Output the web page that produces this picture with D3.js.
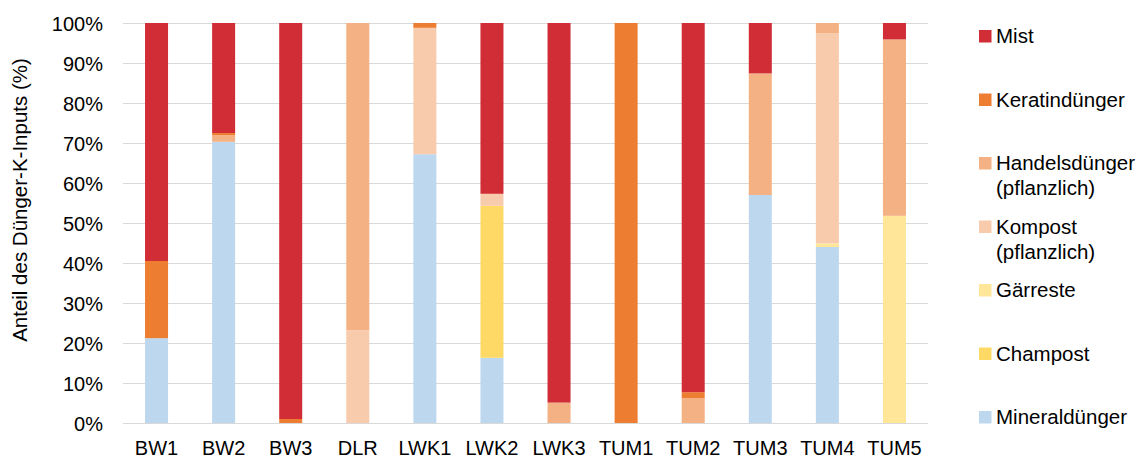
<!DOCTYPE html>
<html>
<head>
<meta charset="utf-8">
<script src="https://cdn.jsdelivr.net/npm/d3@7"></script>
<style>
  html, body { margin: 0; padding: 0; background: #fff; }
  svg { display: block; }
  text { font-family: "Liberation Sans", Arial, sans-serif; fill: #000; }
</style>
</head>
<body>
<svg id="chart" width="1145" height="459"></svg>
<script>
const categories = ["BW1","BW2","BW3","DLR","LWK1","LWK2","LWK3","TUM1","TUM2","TUM3","TUM4","TUM5"];
const mineral   = [21.2, 70.3, 0,    0,    67.2, 16.3, 0,    0,   0,    57.0, 44.0, 0];
const champost  = [0,    0,    0,    0,    0,    38.0, 0,    0,   0,    0,    0,    0];
const gaerreste = [0,    0,    0,    0,    0,    0,    0,    0,   0,    0,    0.9,  51.8];
const kompost   = [0,    0,    0,    23.2, 31.6, 3.0,  0,    0,   0,    0,    52.5, 0];
const handels   = [0,    1.7,  0,    76.8, 0,    0,    5.1,  0,   6.2,  30.4, 2.6,  44.1];
const keratin   = [19.3, 0.5,  1.0,  0,    1.2,  0,    0,    100, 1.5,  0,    0,    0];
const mist      = [59.5, 27.5, 99.0, 0,    0,    42.7, 94.9, 0,   92.3, 12.6, 0,    4.1];
const yTicks = [0,10,20,30,40,50,60,70,80,90,100];

// series, bottom to top of stack
const seriesKeys = ["Mineraldünger","Champost","Gärreste","Kompost","Handelsdünger","Keratindünger","Mist"];
const seriesValues = [mineral, champost, gaerreste, kompost, handels, keratin, mist];
const seriesColors = ["#BDD7EE","#FFD966","#FFE699","#F8CBAD","#F4B183","#ED7D31","#D12D36"];
const legendLabels = {
  "Mist": ["Mist"],
  "Keratindünger": ["Keratindünger"],
  "Handelsdünger": ["Handelsdünger","(pflanzlich)"],
  "Kompost": ["Kompost","(pflanzlich)"],
  "Gärreste": ["Gärreste"],
  "Champost": ["Champost"],
  "Mineraldünger": ["Mineraldünger"]
};

const rows = categories.map((c, i) => {
  const r = {cat: c};
  seriesKeys.forEach((k, j) => r[k] = seriesValues[j][i]);
  return r;
});

const svg = d3.select("#chart");
const pLeft = 123, pRight = 928, pTop = 23, pBottom = 423;
const FONT = "20px";

const x = d3.scaleBand().domain(categories).range([pLeft, pRight]).paddingInner(0.657).paddingOuter(0.3285);
const y = d3.scaleLinear().domain([0, 100]).range([pBottom, pTop]);
const color = d3.scaleOrdinal().domain(seriesKeys).range(seriesColors);

// gridlines
svg.append("g").selectAll("line").data(yTicks).join("line")
  .attr("x1", pLeft).attr("x2", pRight)
  .attr("y1", d => y(d) + 0.5).attr("y2", d => y(d) + 0.5)
  .attr("stroke", "#D9D9D9").attr("stroke-width", 1.2);

// y axis labels
const yAxis = d3.axisLeft(y).tickValues(yTicks).tickFormat(d => d + "%").tickSize(0).tickPadding(20);
const gy = svg.append("g").attr("transform", `translate(${pLeft},0)`).call(yAxis);
gy.select(".domain").remove();
gy.selectAll("text").style("font-size", FONT).style("font-family", "'Liberation Sans', Arial, sans-serif").attr("fill", "#000").attr("dy", "0.36em");

// bars
const stacked = d3.stack().keys(seriesKeys)(rows);
svg.append("g").selectAll("g").data(stacked).join("g")
  .attr("fill", d => color(d.key))
  .selectAll("rect").data(d => d).join("rect")
  .attr("x", d => x(d.data.cat))
  .attr("width", x.bandwidth())
  .attr("y", d => y(d[1]))
  .attr("height", d => y(d[0]) - y(d[1]));

// x axis labels
const xAxis = d3.axisBottom(x).tickSize(0).tickPadding(18);
const gx = svg.append("g").attr("transform", `translate(0,${pBottom})`).call(xAxis);
gx.select(".domain").remove();
gx.selectAll("text").style("font-size", FONT).style("font-family", "'Liberation Sans', Arial, sans-serif").attr("fill", "#000");

// y axis title
svg.append("text")
  .attr("transform", "translate(27,200) rotate(-90)")
  .attr("text-anchor", "middle")
  .style("font-size", "20.5px")
  .text("Anteil des Dünger-K-Inputs (%)");

// legend
const legendOrder = seriesKeys.slice().reverse();
const legendY = d3.scaleLinear().domain([0, legendOrder.length - 1]).range([43, 424]);
const lg = svg.append("g").selectAll("g").data(legendOrder).join("g")
  .attr("transform", (d, i) => `translate(979,${legendY(i)})`);
lg.append("rect").attr("x", 0).attr("y", -13).attr("width", 12.5).attr("height", 12.5).attr("fill", d => color(d));
lg.append("text").attr("x", 17).style("font-size", "20.5px")
  .selectAll("tspan").data(d => legendLabels[d]).join("tspan")
  .attr("x", 17).attr("dy", (d, i) => i === 0 ? 0 : 25)
  .text(d => d);
</script>
</body>
</html>
